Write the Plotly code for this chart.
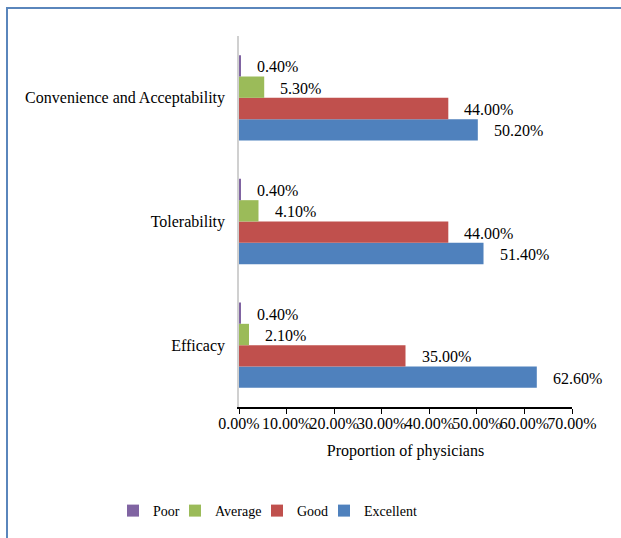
import plotly.graph_objects as go

categories = ["Efficacy", "Tolerability", "Convenience and Acceptability"]
poor = [0.4, 0.4, 0.4]
average = [2.1, 4.1, 5.3]
good = [35.0, 44.0, 44.0]
excellent = [62.6, 51.4, 50.2]
series_names = ["Excellent", "Good", "Average", "Poor"]
series_values = [excellent, good, average, poor]
series_colors = ["#4F81BD", "#C0504D", "#9BBB59", "#8064A2"]
tick_values = [0, 10, 20, 30, 40, 50, 60, 70]
tick_text = [f"{v:.2f}%" for v in tick_values]

FONT = "Liberation Serif, Times New Roman, serif"
FS = 16
LFS = 14
W, H, L, R, T, B = 621, 538, 239, 49, 36, 131
PW = W - L - R
PH = H - T - B

# each legend entry gets its own legend box so the entries sit close together
legend_ids = {"Poor": "legend", "Average": "legend2", "Good": "legend3", "Excellent": "legend4"}
legend_px = {"Poor": 113, "Average": 175, "Good": 257, "Excellent": 324}

fig = go.Figure()
for name, vals, col in zip(series_names, series_values, series_colors):
    fig.add_trace(go.Bar(
        y=categories, x=vals, name=name, orientation="h",
        marker=dict(color=col, line=dict(width=0)),
        legend=legend_ids[name],
    ))

legend_layout = {}
for name, lid in legend_ids.items():
    legend_layout[lid] = dict(
        orientation="h", xref="container", yref="container",
        x=legend_px[name] / W, xanchor="left",
        y=1 - 511 / H, yanchor="middle",
        font=dict(size=LFS, family=FONT, color="black"),
        bgcolor="rgba(0,0,0,0)", itemwidth=30,
    )

fig.update_layout(
    width=W, height=H,
    margin=dict(l=L, r=R, t=T, b=B, autoexpand=False),
    paper_bgcolor="white", plot_bgcolor="white",
    barmode="group", bargap=0.31, bargroupgap=0,
    font=dict(family=FONT, size=FS, color="black"),
    showlegend=True,
    xaxis=dict(range=[0, 70], tickvals=tick_values, ticktext=tick_text, tickangle=0,
               automargin=False,
               showgrid=False, zeroline=False, showline=True, linecolor="black",
               linewidth=1.5, ticks="outside", ticklen=5, tickcolor="black",
               ticklabelstandoff=-4,
               title=dict(text="Proportion of physicians", standoff=14,
                          font=dict(size=FS, family=FONT))),
    yaxis=dict(showgrid=False, zeroline=False, showline=True, linecolor="#d0d0d0",
               automargin=False,
               linewidth=1.5, ticks="", ticklabelstandoff=9),
    **legend_layout,
)

# data labels next to each bar end
n = len(series_names)
band = 1.0 - 0.31
slot = band / n
for ti, (name, vals) in enumerate(zip(series_names, series_values)):
    off = -band / 2 + slot * (ti + 0.5)
    for ci, v in enumerate(vals):
        fig.add_annotation(
            x=v, y=ci + off, xref="x", yref="y", text=f"{v:.2f}%",
            showarrow=False, xanchor="left", yanchor="middle", xshift=14, yshift=-1,
            font=dict(size=FS, family=FONT, color="black"),
        )

# outer frame (partially visible)
fig.add_shape(type="rect", xref="paper", yref="paper",
              x0=(7 - L) / PW, x1=3, y0=-3, y1=(T + PH - 8) / PH,
              line=dict(color="#5A86BC", width=2), fillcolor="rgba(0,0,0,0)", layer="below")

fig.write_html("out.html")
